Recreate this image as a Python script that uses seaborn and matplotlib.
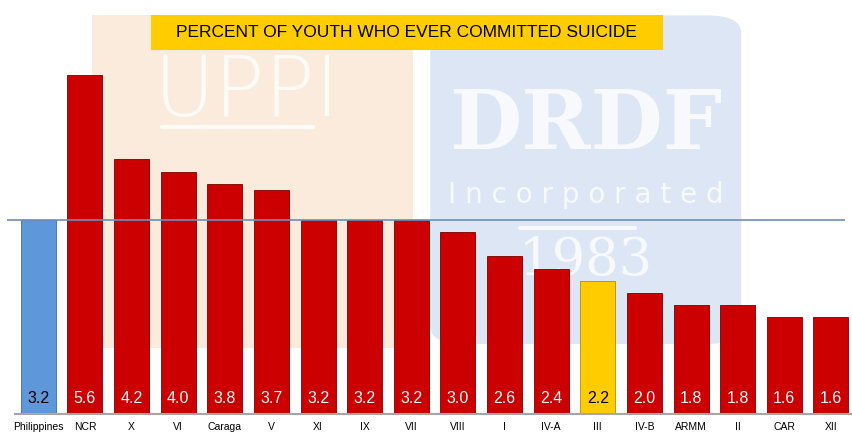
import matplotlib
matplotlib.use('Agg')
import matplotlib.pyplot as plt
from matplotlib.patches import Rectangle, FancyBboxPatch
import pandas as pd
import seaborn as sns

sns.set_theme(style="white")
plt.rcParams["font.family"] = ["Liberation Sans", "DejaVu Sans"]

# Data
regions = ["Philippines", "NCR", "X", "VI", "Caraga", "V", "XI", "IX", "VII",
           "VIII", "I", "IV-A", "III", "IV-B", "ARMM", "II", "CAR", "XII"]
percent = [3.2, 5.6, 4.2, 4.0, 3.8, 3.7, 3.2, 3.2, 3.2,
           3.0, 2.6, 2.4, 2.2, 2.0, 1.8, 1.8, 1.6, 1.6]
national = 3.2
title = "PERCENT OF YOUTH WHO EVER COMMITTED SUICIDE"

RED, BLUE, YELLOW = "#CC0000", "#5F97DB", "#FFCC00"
colors = [BLUE if r == "Philippines" else YELLOW if r == "III" else RED for r in regions]
df = pd.DataFrame({"region": regions, "percent": percent})

fig = plt.figure(figsize=(8.52, 4.41), dpi=100)
fig.patch.set_facecolor("white")

# faint logo watermarks, on their own axes behind the chart
bg = fig.add_axes([0, 0, 1, 1], zorder=0)
bg.set_xlim(0, 1)
bg.set_ylim(0, 1)
bg.axis("off")
bg.add_patch(Rectangle((0.108, 0.211), 0.377, 0.755, facecolor="#FAEBDC", edgecolor="none"))
bg.add_patch(FancyBboxPatch((0.505, 0.22), 0.365, 0.745,
                            boxstyle="round,pad=0,rounding_size=0.04",
                            facecolor="#DCE6F5", edgecolor="none"))
wm = dict(color="white", alpha=0.8, ha="center", va="center")
bg.text(0.29, 0.79, "UPPI", fontsize=60, family="DejaVu Sans", fontweight="light", **wm)
bg.plot([0.19, 0.367], [0.712, 0.712], color="white", lw=3, alpha=0.8)
bg.text(0.687, 0.715, "DRDF", fontsize=60, family="DejaVu Serif", fontweight="bold", **wm)
bg.text(0.687, 0.557, "I n c o r p o r a t e d", fontsize=20, family="DejaVu Sans", **wm)
bg.plot([0.61, 0.745], [0.483, 0.483], color="white", lw=3, alpha=0.8)
bg.text(0.687, 0.41, "1983", fontsize=38, family="DejaVu Serif", **wm)

# yellow title box
bg.add_patch(Rectangle((0.177, 0.887), 0.601, 0.079, facecolor=YELLOW,
                       edgecolor="none", zorder=5))
bg.text(0.477, 0.926, title, ha="center", va="center", fontsize=12.5,
        color="black", zorder=6)

ax = fig.add_axes([0.0176, 0.0612, 0.985, 0.9388], zorder=1)
ax.patch.set_alpha(0)

sns.barplot(data=df, x="region", y="percent", hue="region", palette=colors,
            saturation=1, legend=False, width=0.75, edgecolor="#7a0000",
            linewidth=0.6, ax=ax, zorder=2)
ax.patches[0].set_edgecolor("#3d6ea8")
ax.patches[12].set_edgecolor("#b38f00")

ax.set_xlim(-0.5, 17.5)
ax.set_ylim(0, 6.83)

# national average reference line
ax.hlines(national, -0.68, 17.3, color="#6C8EBF", lw=1.2, zorder=3, clip_on=False)

for i, (r, v) in enumerate(zip(regions, percent)):
    tc = "black" if r in ("Philippines", "III") else "white"
    ax.text(i, 0.26, f"{v:.1f}", ha="center", va="center", color=tc, fontsize=11.5, zorder=4)

ax.set_xlabel("")
ax.set_ylabel("")
ax.set_yticks([])
ax.tick_params(axis="x", length=0, labelsize=7.5, pad=6, colors="black")
for s in ["top", "right", "left"]:
    ax.spines[s].set_visible(False)
ax.spines["bottom"].set_color("#A6A6A6")
ax.spines["bottom"].set_linewidth(1.5)

fig.savefig("out.png", dpi=100, facecolor="white")
